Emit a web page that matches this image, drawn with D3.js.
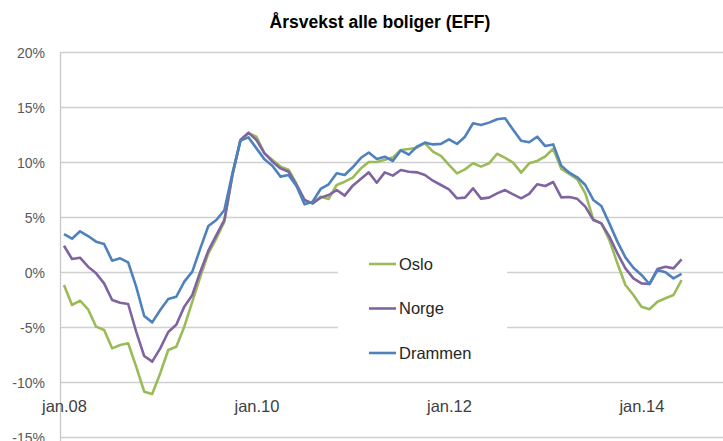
<!DOCTYPE html>
<html>
<head>
<meta charset="utf-8">
<script src="https://cdn.jsdelivr.net/npm/d3@7"></script>
<style>
  body { margin: 0; background: #fff; }
  svg { display: block; font-family: "Liberation Sans", Arial, sans-serif; }
</style>
</head>
<body>
<svg id="chart"></svg>
<script>
// month names as used in the source (Norwegian)
const monthNames = ['jan', 'feb', 'mar', 'apr', 'mai', 'jun', 'jul', 'aug', 'sep', 'okt', 'nov', 'des'];
// jan.08 .. jun.14
const categories = [];
for (let yr = 8; yr <= 14; yr++) {
    monthNames.forEach((m, k) => {
        if (yr === 14 && k > 5) return;
        categories.push(m + '.' + String(yr).padStart(2, '0'));
    });
}
const xTickLabels = ['jan.08', 'jan.10', 'jan.12', 'jan.14'];
const yTicks = [-15, -10, -5, 0, 5, 10, 15, 20];

const oslo = [
    -1.18, -3.0, -2.61, -3.39, -4.97, -5.27, -6.94, -6.64, -6.48, -8.6, -10.88, -11.09,
    -9.2, -7.09, -6.79, -4.97, -2.7, -0.42, 1.7, 3.06, 4.58, 8.82, 11.94, 12.61,
    12.3, 10.79, 10.18, 9.58, 9.3, 8.0, 6.5, 6.24, 6.85, 6.64, 7.91, 8.21,
    8.58, 9.4, 10.0, 10.0, 10.2, 10.4, 11.09, 11.18, 11.3, 11.72, 10.94, 10.55,
    9.73, 8.97, 9.33, 9.88, 9.58, 9.88, 10.75, 10.38, 9.94, 9.03, 9.88, 10.1,
    10.5, 11.2, 9.38, 8.91, 8.42, 7.15, 4.79, 4.42, 2.91, 0.79, -1.18, -2.09,
    -3.15, -3.39, -2.7, -2.39, -2.09, -0.73
];
const norge = [
    2.39, 1.18, 1.3, 0.48, -0.12, -1.03, -2.55, -2.79, -2.91, -5.42, -7.64, -8.15,
    -6.94, -5.45, -4.8, -3.15, -2.09, 0.03, 1.94, 3.36, 4.73, 8.82, 12.0, 12.67,
    12.0, 10.79, 10.03, 9.42, 9.12, 7.9, 6.55, 6.24, 6.76, 7.0, 7.45, 6.94,
    7.85, 8.45, 9.06, 8.12, 9.06, 8.76, 9.27, 9.12, 9.06, 8.82, 8.3, 7.91,
    7.52, 6.7, 6.76, 7.61, 6.67, 6.76, 7.15, 7.45, 7.06, 6.7, 7.1, 7.98,
    7.82, 8.18, 6.78, 6.82, 6.65, 5.94, 4.73, 4.42, 3.21, 1.7, 0.33, -0.58,
    -1.03, -1.09, 0.27, 0.48, 0.33, 1.15
];
const drammen = [
    3.45, 3.03, 3.7, 3.27, 2.76, 2.55, 1.03, 1.24, 0.88, -1.33, -4.0, -4.58,
    -3.45, -2.45, -2.25, -0.88, 0.03, 2.15, 4.18, 4.73, 5.64, 8.97, 11.94, 12.24,
    11.24, 10.24, 9.64, 8.67, 8.82, 7.8, 6.15, 6.39, 7.55, 7.97, 8.97, 8.82,
    9.52, 10.36, 10.86, 10.28, 10.48, 10.09, 11.06, 10.67, 11.4, 11.76, 11.6, 11.65,
    12.06, 11.64, 12.3, 13.52, 13.36, 13.58, 13.88, 13.97, 12.94, 11.94, 11.8, 12.3,
    11.45, 11.6, 9.67, 9.03, 8.61, 7.91, 6.55, 6.0, 4.42, 2.76, 1.33, 0.39,
    -0.27, -1.09, 0.18, -0.03, -0.58, -0.18
];

const seriesNames = ['Oslo', 'Norge', 'Drammen'];
const seriesColors = ['#9bbb59', '#8064a2', '#4f81bd'];
const seriesValues = [oslo, norge, drammen];

const width = 723, height = 441;
const plot = { left: 60, right: 723, top: 52, bottom: 437 };

const svg = d3.select('#chart')
    .attr('width', width)
    .attr('height', height);

const x = d3.scalePoint()
    .domain(categories)
    .range([64, 64 + (categories.length - 1) * 8.02]);

const y = d3.scaleLinear()
    .domain([-15, 20])
    .range([plot.bottom, plot.top]);

// gridlines
svg.append('g')
    .selectAll('line')
    .data(yTicks)
    .join('line')
    .attr('x1', plot.left)
    .attr('x2', plot.right)
    .attr('y1', d => Math.round(y(d)) + 0.5)
    .attr('y2', d => Math.round(y(d)) + 0.5)
    .attr('stroke', '#d0d0d0')
    .attr('stroke-width', 1.3);

// vertical axis line
svg.append('line')
    .attr('x1', plot.left + 0.5)
    .attr('x2', plot.left + 0.5)
    .attr('y1', plot.top)
    .attr('y2', plot.bottom + 4)
    .attr('stroke', '#c8c8c8')
    .attr('stroke-width', 1.3);

// y axis labels
const yAxis = d3.axisLeft(y)
    .tickValues(yTicks)
    .tickFormat(d => d + '%')
    .tickSize(0)
    .tickPadding(0);

svg.append('g')
    .attr('transform', `translate(45, 0)`)
    .call(yAxis)
    .call(g => g.select('.domain').remove())
    .call(g => g.selectAll('text')
        .attr('font-size', 14)
        .attr('font-family', '"Liberation Sans", Arial, sans-serif')
        .attr('fill', '#595959')
        .attr('dy', '0.36em'));

// legend box (hides gridlines behind it)
svg.append('rect')
    .attr('x', 338)
    .attr('y', 232)
    .attr('width', 169)
    .attr('height', 143)
    .attr('fill', '#fff');

// x axis labels
const xAxis = d3.axisBottom(x)
    .tickValues(xTickLabels)
    .tickSize(0)
    .tickPadding(0);

svg.append('g')
    .attr('transform', `translate(0, 400)`)
    .call(xAxis)
    .call(g => g.select('.domain').remove())
    .call(g => g.selectAll('text')
        .attr('font-size', 16.5)
        .attr('font-family', '"Liberation Sans", Arial, sans-serif')
        .attr('fill', '#404040')
        .attr('dy', '0.72em'));

// lines
const line = d3.line()
    .x((d, i) => x(categories[i]))
    .y(d => y(d));

svg.append('g')
    .selectAll('path')
    .data(seriesValues)
    .join('path')
    .attr('d', d => line(d))
    .attr('fill', 'none')
    .attr('stroke', (d, i) => seriesColors[i])
    .attr('stroke-width', 2.6)
    .attr('stroke-linejoin', 'round');

// legend
const legend = svg.append('g')
    .selectAll('g')
    .data(seriesNames)
    .join('g')
    .attr('transform', (d, i) => `translate(369, ${264 + i * 44.5})`);

legend.append('line')
    .attr('x1', 0)
    .attr('x2', 27)
    .attr('stroke', (d, i) => seriesColors[i])
    .attr('stroke-width', 2.6);

legend.append('text')
    .attr('x', 30)
    .attr('dy', '0.36em')
    .attr('font-size', 16.5)
    .attr('fill', '#262626')
    .text(d => d);

// title
svg.append('text')
    .attr('x', 380)
    .attr('y', 28)
    .attr('text-anchor', 'middle')
    .attr('font-size', 17.5)
    .attr('font-weight', 'bold')
    .attr('fill', '#000')
    .text('Årsvekst alle boliger (EFF)');
</script>
</body>
</html>
